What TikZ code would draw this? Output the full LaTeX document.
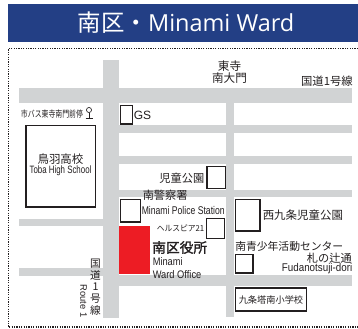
\documentclass[tikz,border=0pt]{standalone}
\usepackage{fontspec}
\setmainfont{Liberation Sans}
\newfontfamily\cjk{Noto Sans CJK JP}
\newfontfamily\cjkb{Noto Sans CJK JP}[FakeBold=1.5]
\newfontfamily\titlefont{Open Sans}
\definecolor{road}{HTML}{D1D3D4}
\definecolor{navy}{HTML}{233F85}
\definecolor{wardred}{HTML}{ED1C24}
\definecolor{ink}{HTML}{231F20}
\newcommand{\fs}[2]{\fontsize{#1}{#2}\selectfont}
\tikzset{
  x=0.75pt,y=-0.75pt,
  roadfill/.style={fill=road,draw=none},
  bldg/.style={draw=ink,line width=0.9pt,fill=white,inner sep=0pt,minimum width=0pt},
  lbl/.style={inner sep=0pt,text=ink,font=\cjk},
  lat/.style={inner sep=0pt,text=ink,font=\fs{#1}{#1}\rmfamily},
}
\begin{document}
\begin{tikzpicture}
\useasboundingbox (0,0) rectangle (358,329);
\fill[white] (0,0) rectangle (358,329);
% header
\fill[navy] (8,4) rectangle (358,42);
\node[inner sep=0pt,text=white,anchor=center] (title) at (186,23) {\fs{17.6}{20}\cjk 南区・\titlefont Minami Ward};
% frame
\draw[ink,line width=0.9pt,dash pattern=on 0.9pt off 0.9pt] (358,48.5) -- (8.5,48.5) -- (8.5,327) -- (358,327);
% roads
\fill[roadfill] (103,60) rectangle (119,318);
\fill[roadfill] (226,103) rectangle (234,317);
\fill[roadfill] (19,88) rectangle (352,103);
\fill[roadfill] (119,125) rectangle (352,133);
\fill[roadfill] (119,156) rectangle (352,164);
\fill[roadfill] (119,190) rectangle (352,197);
\fill[roadfill] (19,219) rectangle (103,226);
\fill[roadfill] (19,268) rectangle (103,276);
\fill[roadfill] (119,275) rectangle (352,286);
% buildings
\draw[bldg] (26,125.5) rectangle (95.5,207);
\draw[bldg] (120.5,105.5) rectangle (132.5,124);
\draw[bldg] (207,166.5) rectangle (225.5,188.5);
\draw[bldg] (120.5,199.5) rectangle (140.5,222);
\draw[bldg] (206.5,218.5) rectangle (224.5,238.5);
\draw[bldg] (235.5,199.5) rectangle (260,231);
\draw[bldg] (235.5,254.5) rectangle (253,273);
\draw[bldg] (235.5,288) rectangle (306.5,311);
\fill[wardred] (119,226) rectangle (150,274);
% labels
\node[lbl,anchor=center] (bus) at (52,114) {\scalebox{0.76}[1]{\fs{6.8}{8}市バス東寺南門前停}};
\draw[ink,line width=0.5pt] (89,110) circle (1.9pt);
\draw[ink,line width=0.5pt] (89,113) -- (89,118) (85.5,118.5) -- (92.5,118.5);
\node[lat=9,anchor=west] (gs) at (133.5,115) {GS};
\node[lbl,anchor=center] (toba) at (60.5,159.5) {\fs{8.6}{10}鳥羽高校};
\node[lat=8,anchor=center] (tobaen) at (60.5,171) {\scalebox{0.74}[1]{Toba High School}};
\node[lbl,align=center,anchor=center,font=\cjk\fs{8.7}{9}] (toji) at (229.5,72) {東寺\\南大門};
\node[lbl,anchor=east] (r1) at (353,81) {\fs{8.5}{10}国道1号線};
\node[lbl,anchor=east] (park) at (204.5,178) {\fs{8.4}{10}児童公園};
\node[lbl,anchor=west] (police) at (142.5,195) {\fs{8.4}{10}南警察署};
\node[lbl,anchor=west,font=\fs{8.4}{9}\rmfamily] (policeen) at (141.5,210) {\scalebox{0.77}[1]{Minami Police Station}};
\node[lbl,anchor=east] (herusu) at (204.5,228) {\scalebox{0.94}[1]{\fs{6.2}{8}ヘルスピア21}};
\node[lbl,anchor=west] (office) at (152,247.5) {\fs{10.3}{12}\cjkb 南区役所};
\node[lat=8.2,anchor=west] (off1) at (152.5,262) {\scalebox{0.85}[1]{Minami}};
\node[lat=8.2,anchor=west] (off2) at (152.5,275) {\scalebox{0.85}[1]{Ward Office}};
\node[lbl,anchor=west] (nishi) at (262.5,215) {\fs{8.6}{10}西九条児童公園};
\node[lbl,anchor=west] (youth) at (235,246) {\fs{8.1}{9}南青少年活動センター};
\node[lbl,anchor=east] (fuda) at (352,258) {\fs{8.4}{10}札の辻通};
\node[lat=8.4,anchor=east] (fudaen) at (352.5,269) {\scalebox{0.875}[1]{Fudanotsuji-dori}};
\node[lbl,anchor=center] (kujo) at (271,299.5) {\fs{6.9}{8}九条塔南小学校};
\node[lbl,align=center,anchor=north,font=\cjk\fs{8}{8.7}] (kokudo) at (95.5,259) {国\\道\\1\\号\\線};
\node[lat=7,anchor=center,rotate=-90] (route) at (83.5,301) {Route 1};
\end{tikzpicture}
\end{document}
